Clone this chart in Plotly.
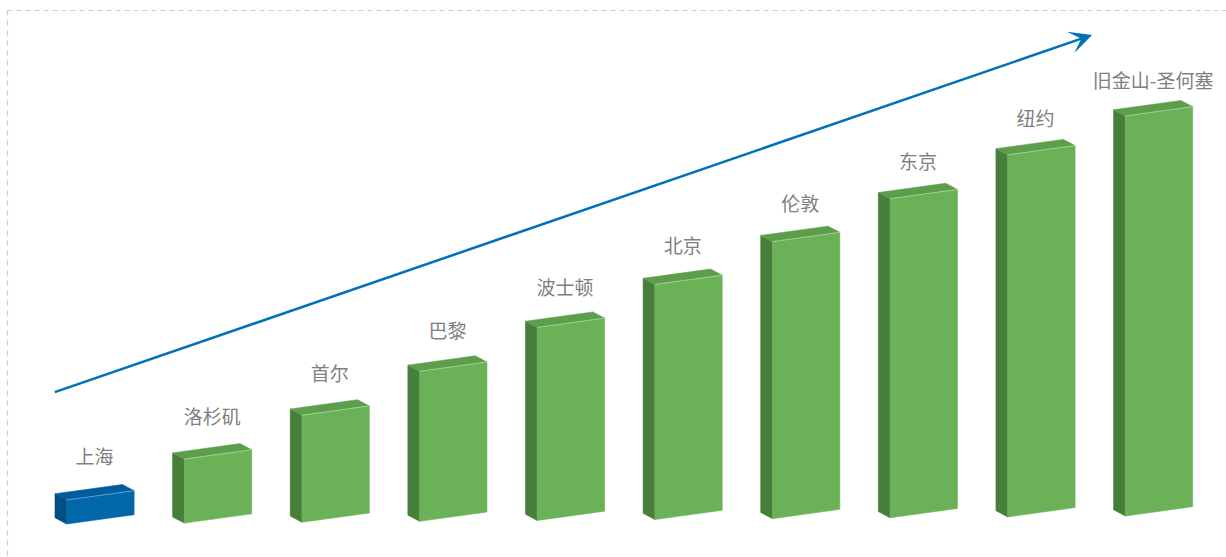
import plotly.graph_objects as go

# ---- data ----
cities = ["上海", "洛杉矶", "首尔", "巴黎", "波士顿", "北京", "伦敦", "东京", "纽约", "旧金山-圣何塞"]
values = [24, 64, 107, 150, 193, 235, 277, 319, 362, 400]
highlight = ["上海"]

# ---- style (geometry of the pseudo-3D bars, in axis units) ----
W, H = 1226, 557
SLOT_PX = 117.62            # px per category slot
X0_PX = 100.4               # px of first bar front centre
BASE_PX = 524.0             # px of zero line
HALF_W = 33.7 / SLOT_PX     # half front width (slot units)
SKEW = 9.3                  # right edge raised (y units)
BASE_RISE = 0.89            # baseline rises per bar (perspective)
DEPTH_X = -11.7 / SLOT_PX   # depth offset
DEPTH_Y = 6.2
LABEL_GAP = 40.6

GREEN = dict(front="#6ab158", side="#467e3a", top="#5d9e4d", edge="#9fd08f")
BLUE = dict(front="#0067a9", side="#004e84", top="#005c9a", edge="#5a9fd0")

fig = go.Figure()

def poly(xs, ys, color, line_color=None):
    fig.add_trace(go.Scatter(
        x=xs + [xs[0]], y=ys + [ys[0]], mode="lines", fill="toself",
        fillcolor=color, line=dict(color=line_color or color, width=0.6),
        hoverinfo="skip", showlegend=False))

for i, (c, v) in enumerate(zip(cities, values)):
    col = BLUE if c in highlight else GREEN
    b = BASE_RISE * i
    xl, xr = i - HALF_W, i + HALF_W
    fl_b, fr_b = (xl, b), (xr, b + SKEW)
    fl_t, fr_t = (xl, b + v), (xr, b + SKEW + v)
    d = lambda p: (p[0] + DEPTH_X, p[1] + DEPTH_Y)
    # side face
    pts = [fl_b, fl_t, d(fl_t), d(fl_b)]
    poly([p[0] for p in pts], [p[1] for p in pts], col["side"])
    # top face
    pts = [fl_t, fr_t, d(fr_t), d(fl_t)]
    poly([p[0] for p in pts], [p[1] for p in pts], col["top"])
    # front face
    pts = [fl_b, fr_b, fr_t, fl_t]
    poly([p[0] for p in pts], [p[1] for p in pts], col["front"])
    # light top edge
    fig.add_trace(go.Scatter(x=[fl_t[0], fr_t[0]], y=[fl_t[1], fr_t[1]], mode="lines",
                             line=dict(color=col["edge"], width=1),
                             hoverinfo="skip", showlegend=False))

# labels
fig.add_trace(go.Scatter(
    x=[i + DEPTH_X / 2 for i in range(len(cities))],
    y=[v + LABEL_GAP for v in values],
    mode="text", text=cities,
    textfont=dict(family="Noto Sans CJK SC", size=19, color="#808080"),
    textposition="middle center", hoverinfo="skip", showlegend=False))

# trend arrow (paper coordinates)
tip = (1092, 35)
start = (53.3, 392.7)
fig.add_annotation(
    xref="paper", yref="paper", x=tip[0] / W, y=1 - tip[1] / H,
    axref="pixel", ayref="pixel", ax=start[0] - tip[0], ay=start[1] - tip[1],
    showarrow=True, arrowhead=3, arrowsize=1.5, arrowwidth=2.5,
    arrowcolor="#0070b8", text="")

# dashed frame
fig.add_shape(type="line", xref="paper", yref="paper",
              x0=7.5 / W, x1=1, y0=1 - 10.5 / H, y1=1 - 10.5 / H,
              line=dict(color="#cccccc", width=1.2, dash="5px,4px"))
fig.add_shape(type="line", xref="paper", yref="paper",
              x0=7.5 / W, x1=7.5 / W, y0=1 - 10.5 / H, y1=0,
              line=dict(color="#cccccc", width=1.2, dash="5px,5px"))

fig.update_xaxes(range=[-X0_PX / SLOT_PX, (W - X0_PX) / SLOT_PX],
                 visible=False, fixedrange=True)
fig.update_yaxes(range=[-(H - BASE_PX), BASE_PX], visible=False, fixedrange=True)
fig.update_layout(width=W, height=H, margin=dict(l=0, r=0, t=0, b=0),
                  plot_bgcolor="white", paper_bgcolor="white", showlegend=False)

fig.write_html("out.html", config={"displayModeBar": False},
               post_script="document.body.style.margin='0';document.body.style.overflow='hidden';")
